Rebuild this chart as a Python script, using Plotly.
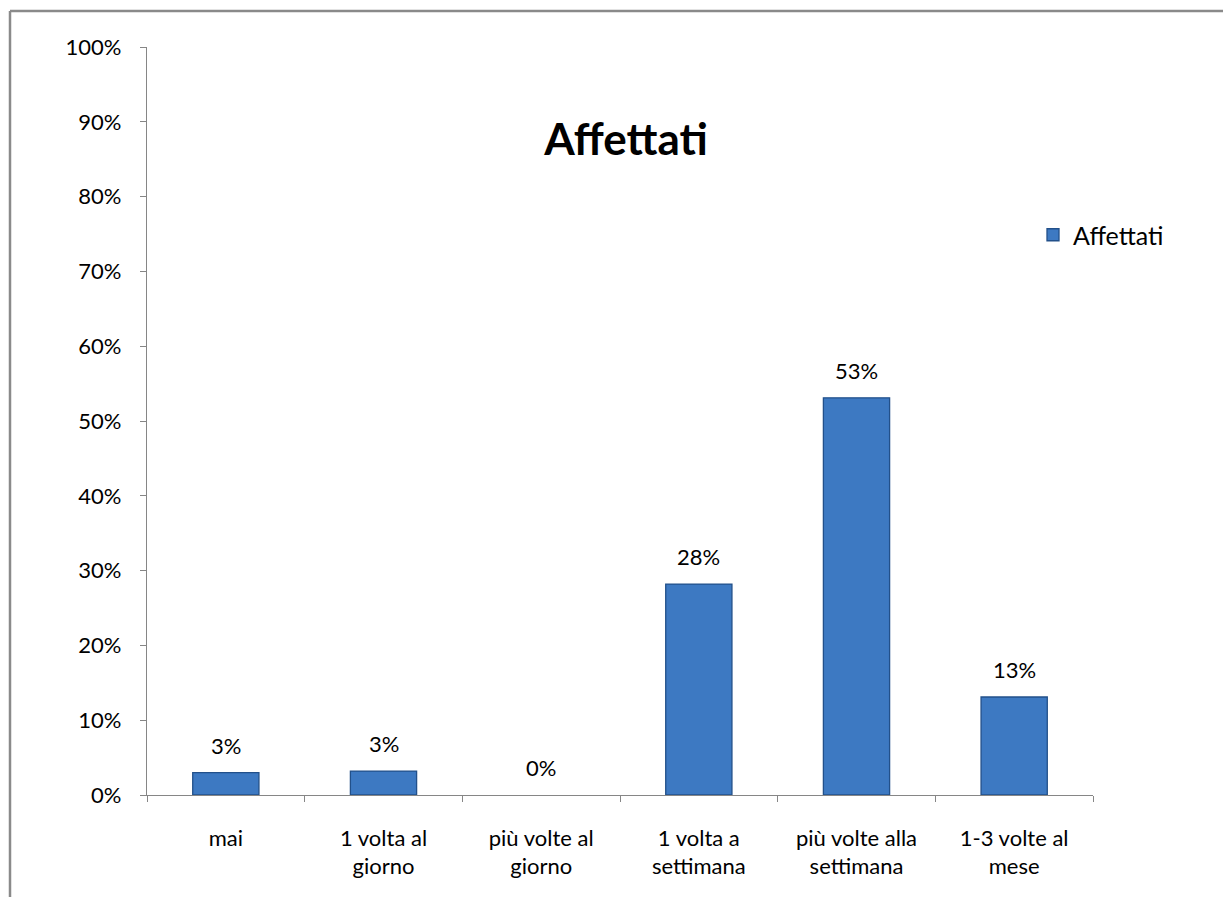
import plotly.graph_objects as go

categories = [
    "mai",
    "1 volta al<br>giorno",
    "più volte al<br>giorno",
    "1 volta a<br>settimana",
    "più volte alla<br>settimana",
    "1-3 volte al<br>mese",
]
shares = [0.030, 0.032, 0.0, 0.282, 0.531, 0.131]
series_name = "Affettati"
y_ticks = [0, 0.1, 0.2, 0.3, 0.4, 0.5, 0.6, 0.7, 0.8, 0.9, 1.0]

FONT = "Lato, 'Open Sans', sans-serif"
AXIS_GREY = "#868686"
TXT = 22

fig = go.Figure()
fig.add_trace(
    go.Bar(
        x=categories,
        y=shares,
        name=series_name,
        marker=dict(
            color="#3d79c2",
            # no outline on empty bars so they stay invisible
            line=dict(color="#22508a", width=[1.3 if v > 0 else 0 for v in shares]),
        ),
        width=0.42,
        showlegend=True,
    )
)

# value labels above each bar
for cat, val in zip(categories, shares):
    fig.add_annotation(
        x=cat, y=val, text=f"{val:.0%}", showarrow=False,
        yanchor="bottom", yshift=12,
        font=dict(size=TXT, family=FONT, color="#000000"),
    )

fig.update_layout(
    width=1223,
    height=897,
    margin=dict(l=147, r=130, t=47, b=102),
    paper_bgcolor="white",
    plot_bgcolor="white",
    font=dict(family=FONT, size=TXT, color="#000000"),
    title=dict(
        text="<b>Affettati</b>",
        x=(626 - 147) / 946,
        xref="paper",
        xanchor="center",
        y=1 - (140 / 897),
        yanchor="middle",
        yref="container",
        font=dict(size=44, family=FONT, color="#000000"),
    ),
    legend=dict(
        x=(1033 - 147) / 946,
        y=(795 - 235) / 748,
        xanchor="left",
        yanchor="middle",
        font=dict(size=25, family=FONT),
        bgcolor="rgba(0,0,0,0)",
        itemwidth=30,
    ),
    bargap=0.58,
    showlegend=True,
)

fig.update_xaxes(
    type="category",
    showline=True,
    linecolor=AXIS_GREY,
    linewidth=1.3,
    ticks="outside",
    tickson="boundaries",
    ticklen=6,
    tickcolor=AXIS_GREY,
    showgrid=False,
    tickfont=dict(size=TXT, family=FONT),
    ticklabelstandoff=23,
)
fig.update_yaxes(
    range=[0, 1],
    tickvals=y_ticks,
    tickformat=".0%",
    showline=True,
    linecolor=AXIS_GREY,
    linewidth=1.3,
    ticks="outside",
    ticklen=6,
    tickcolor=AXIS_GREY,
    showgrid=False,
    zeroline=False,
    tickfont=dict(size=TXT, family=FONT),
    ticklabelstandoff=14,
)

# outer chart frame (top and left edges)
frame_left = (10 - 147) / 946
frame_top = (795 - 11) / 748
fig.add_shape(type="line", xref="paper", yref="paper",
              x0=frame_left, x1=1.3, y0=frame_top, y1=frame_top,
              line=dict(color="#8a8a8a", width=2.5))
fig.add_shape(type="line", xref="paper", yref="paper",
              x0=frame_left, x1=frame_left, y0=-0.3, y1=frame_top,
              line=dict(color="#8a8a8a", width=2.5))

fig.write_html("out.html")
